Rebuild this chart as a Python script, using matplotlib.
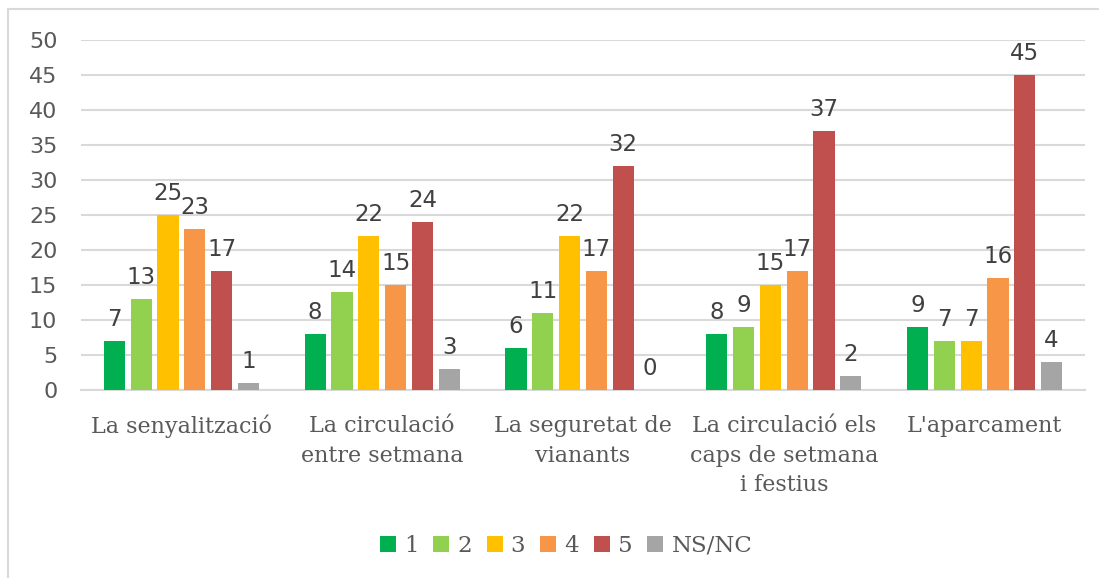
import matplotlib
matplotlib.use("Agg")
import matplotlib.pyplot as plt
import numpy as np
from matplotlib.patches import Rectangle

categories = ["La senyalització", "La circulació\nentre setmana", "La seguretat de\nvianants",
              "La circulació els\ncaps de setmana\ni festius", "L'aparcament"]
series_names = ["1", "2", "3", "4", "5", "NS/NC"]
s1 = [7, 8, 6, 8, 9]
s2 = [13, 14, 11, 9, 7]
s3 = [25, 22, 22, 15, 7]
s4 = [23, 15, 17, 17, 16]
s5 = [17, 24, 32, 37, 45]
s_ns = [1, 3, 0, 2, 4]
series = [s1, s2, s3, s4, s5, s_ns]
colors = ["#00B050", "#92D050", "#FFC000", "#F79646", "#C0504D", "#A5A5A5"]
yticks = [0, 5, 10, 15, 20, 25, 30, 35, 40, 45, 50]

W, H = 1099, 578
fig = plt.figure(figsize=(W / 100, H / 100), dpi=100)
fig.patches.append(Rectangle((8 / W, -0.1), 1.2, 1 - 9 / H + 0.1, transform=fig.transFigure,
                             fill=False, edgecolor="#D9D9D9", linewidth=1.5))
ax = fig.add_axes([81 / W, 1 - 390 / H, (1085 - 81) / W, (390 - 40) / H])

x = np.arange(len(categories))
step = 0.1335
width = 0.105
txt_col = "#595959"
for i, (vals, col, name) in enumerate(zip(series, colors, series_names)):
    pos = x + (i - 2.5) * step
    ax.bar(pos, vals, width=width, color=col, label=name, zorder=3)
    for p, v in zip(pos, vals):
        ax.annotate(str(v), (p, v), xytext=(0, 11), textcoords="offset points",
                    ha="center", va="baseline", fontsize=16.5, color="#404040",
                    family="DejaVu Sans")

ax.set_xlim(-0.5, len(categories) - 0.5)
ax.set_ylim(0, 50)
ax.set_yticks(yticks)
ax.set_yticklabels([str(t) for t in yticks], fontsize=16, color=txt_col, family="DejaVu Sans")
ax.yaxis.grid(True, color="#D9D9D9", linewidth=1.5, zorder=0)
ax.set_axisbelow(True)
ax.tick_params(axis="y", length=0, pad=17)
ax.tick_params(axis="x", length=0, pad=18)
ax.set_xticks(x)
ax.set_xticklabels(categories, fontsize=16, color=txt_col, family="DejaVu Serif",
                   linespacing=1.45, va="top")
for s in ["top", "right", "left"]:
    ax.spines[s].set_visible(False)
ax.spines["bottom"].set_color("#D9D9D9")
ax.spines["bottom"].set_linewidth(1.5)

leg = fig.legend(loc="center", bbox_to_anchor=(566 / W, 1 - 546 / H), ncol=6, frameon=False,
                 prop={"family": "DejaVu Serif", "size": 16.5}, handlelength=0.7, handleheight=0.7,
                 handletextpad=0.35, columnspacing=0.65)
for t in leg.get_texts():
    t.set_color(txt_col)

fig.savefig("out.png", dpi=100, facecolor="white")
